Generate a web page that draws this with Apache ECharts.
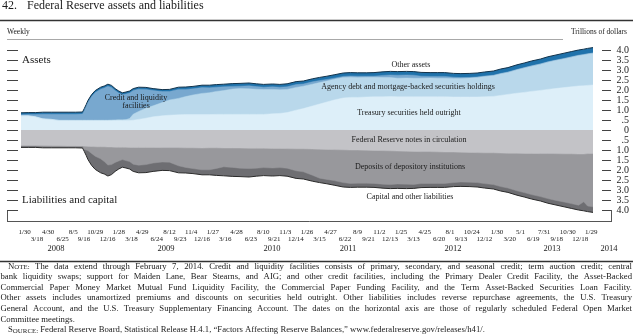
<!DOCTYPE html>
<html><head><meta charset="utf-8">
<script src="https://cdn.jsdelivr.net/npm/echarts@6/dist/echarts.min.js"></script>
<style>html,body{margin:0;padding:0;background:#fff}#c{width:633px;height:335px}</style>
</head><body><div id="c"></div>
<script>
// ---------------- DATA (trillions of dollars) ----------------
const dates = [
 '2008-01-16','2008-02-13','2008-03-12','2008-04-09','2008-05-14','2008-06-11','2008-07-16','2008-08-13','2008-09-10','2008-09-17','2008-09-24','2008-10-01','2008-10-08','2008-10-15','2008-10-22','2008-10-29','2008-11-05','2008-11-19','2008-12-03','2008-12-17','2008-12-31',
 '2009-01-14','2009-01-28','2009-02-11','2009-02-25','2009-03-11','2009-03-25','2009-04-15','2009-05-13','2009-06-10','2009-07-15','2009-08-12','2009-09-16','2009-10-14','2009-11-11','2009-12-16',
 '2010-01-13','2010-02-10','2010-03-10','2010-04-14','2010-05-12','2010-06-16','2010-07-14','2010-08-11','2010-09-15','2010-10-13','2010-11-10','2010-12-15',
 '2011-01-12','2011-02-16','2011-03-16','2011-04-13','2011-05-11','2011-06-15','2011-07-13','2011-08-10','2011-09-14','2011-10-12','2011-11-16','2011-12-14',
 '2012-01-11','2012-02-15','2012-03-14','2012-04-11','2012-05-16','2012-06-13','2012-07-11','2012-08-15','2012-09-12','2012-10-17','2012-11-14','2012-12-12',
 '2013-01-16','2013-02-13','2013-03-13','2013-04-17','2013-05-15','2013-06-12','2013-07-17','2013-08-14','2013-09-11','2013-10-16','2013-11-13','2013-12-11','2013-12-31','2014-01-15','2014-02-05'
];
// Assets
const treasury = [
 0.71,0.71,0.66,0.56,0.53,0.48,0.48,0.48,0.48,0.48,0.48,0.48,0.48,0.48,0.48,0.48,0.48,0.48,0.48,0.48,0.48,
 0.48,0.48,0.47,0.47,0.47,0.49,0.53,0.59,0.66,0.71,0.74,0.76,0.77,0.77,0.77,
 0.77,0.78,0.78,0.78,0.78,0.78,0.78,0.78,0.81,0.83,0.87,0.99,
 1.07,1.20,1.30,1.40,1.50,1.60,1.63,1.63,1.65,1.66,1.66,1.67,
 1.66,1.66,1.66,1.66,1.66,1.66,1.66,1.65,1.65,1.65,1.65,1.66,
 1.68,1.73,1.78,1.84,1.88,1.93,1.98,2.03,2.07,2.12,2.16,2.20,2.21,2.23,2.25
];
const agencyMbs = [
 0,0,0,0,0,0,0,0,0,0,0,0,0,0,0,0,0,0,0,0,0.01,
 0.02,0.03,0.04,0.05,0.10,0.30,0.40,0.50,0.55,0.66,0.76,0.82,0.90,0.98,1.06,
 1.09,1.15,1.19,1.27,1.29,1.28,1.26,1.24,1.22,1.18,1.16,1.14,
 1.12,1.09,1.07,1.05,1.04,1.03,1.01,1.00,0.99,0.98,0.96,0.95,
 0.93,0.94,0.93,0.93,0.94,0.93,0.93,0.93,0.93,0.95,0.98,1.01,
 1.04,1.08,1.10,1.17,1.22,1.26,1.31,1.36,1.40,1.44,1.48,1.52,1.55,1.57,1.59
];
const creditFacilities = [
 0.05,0.06,0.11,0.23,0.26,0.31,0.31,0.31,0.32,0.50,0.69,0.90,0.96,1.19,1.22,1.39,1.48,1.56,1.62,1.71,1.64,
 1.47,1.34,1.25,1.28,1.28,1.18,1.11,0.94,0.76,0.55,0.42,0.45,0.36,0.31,0.29,
 0.25,0.21,0.19,0.13,0.12,0.15,0.13,0.12,0.13,0.13,0.13,0.14,
 0.11,0.12,0.10,0.08,0.05,0.05,0.06,0.06,0.05,0.05,0.11,0.13,
 0.15,0.15,0.15,0.10,0.08,0.09,0.09,0.06,0.04,0.03,0.02,0.03,
 0.02,0.02,0.02,0.02,0.02,0.02,0.02,0.02,0.02,0.02,0.02,0.02,0.02,0.01,0.01
];
const otherAssets = [
 0.10,0.10,0.10,0.10,0.10,0.10,0.10,0.10,0.10,0.10,0.10,0.10,0.10,0.10,0.10,0.10,0.10,0.10,0.10,0.10,0.10,
 0.10,0.10,0.10,0.10,0.10,0.10,0.10,0.10,0.10,0.10,0.11,0.11,0.12,0.12,0.12,
 0.13,0.13,0.13,0.14,0.14,0.14,0.14,0.14,0.14,0.14,0.15,0.15,
 0.15,0.15,0.16,0.16,0.17,0.17,0.17,0.17,0.17,0.18,0.18,0.18,
 0.18,0.18,0.18,0.19,0.19,0.19,0.19,0.19,0.20,0.20,0.20,0.20,
 0.21,0.22,0.22,0.23,0.23,0.24,0.24,0.25,0.25,0.26,0.26,0.26,0.26,0.27,0.27
];
// Liabilities and capital (magnitudes; plotted below zero)
const frNotes = [
 0.78,0.78,0.78,0.78,0.79,0.79,0.80,0.80,0.80,0.81,0.81,0.82,0.82,0.83,0.83,0.83,0.84,0.84,0.84,0.85,0.85,
 0.86,0.86,0.86,0.86,0.87,0.87,0.87,0.87,0.87,0.88,0.88,0.88,0.89,0.89,0.90,
 0.89,0.89,0.90,0.90,0.90,0.91,0.91,0.91,0.92,0.92,0.93,0.94,
 0.94,0.95,0.96,0.97,0.98,0.99,1.00,1.00,1.01,1.02,1.03,1.04,
 1.05,1.06,1.07,1.08,1.08,1.09,1.10,1.10,1.11,1.12,1.13,1.14,
 1.14,1.15,1.16,1.16,1.17,1.17,1.18,1.18,1.18,1.19,1.19,1.20,1.20,1.18,1.17
];
const deposits = [
 0.02,0.02,0.02,0.04,0.03,0.03,0.02,0.02,0.03,0.17,0.18,0.21,0.17,0.34,0.33,0.48,0.54,0.60,0.74,0.90,0.88,
 0.76,0.69,0.62,0.67,0.71,0.84,0.89,0.86,0.78,0.72,0.73,0.91,0.98,1.04,1.09,
 1.10,1.03,0.94,0.97,1.01,1.02,1.00,0.97,0.98,0.96,0.98,1.10,
 1.15,1.31,1.45,1.50,1.55,1.64,1.67,1.66,1.65,1.65,1.68,1.69,
 1.65,1.65,1.65,1.60,1.59,1.58,1.57,1.53,1.49,1.49,1.50,1.54,
 1.59,1.68,1.74,1.88,1.96,2.06,2.15,2.25,2.33,2.41,2.49,2.56,2.39,2.62,2.67
];
const capitalOther = [
 0.07,0.07,0.07,0.07,0.07,0.07,0.07,0.07,0.07,0.10,0.28,0.45,0.55,0.60,0.64,0.66,0.68,0.70,0.62,0.55,0.50,
 0.45,0.40,0.38,0.37,0.37,0.36,0.38,0.40,0.42,0.42,0.42,0.35,0.28,0.25,0.25,
 0.25,0.35,0.45,0.45,0.42,0.42,0.40,0.40,0.40,0.40,0.40,0.38,
 0.36,0.30,0.22,0.22,0.23,0.22,0.20,0.20,0.20,0.20,0.20,0.20,
 0.22,0.22,0.20,0.20,0.20,0.20,0.20,0.20,0.22,0.22,0.22,0.22,
 0.22,0.22,0.22,0.22,0.22,0.22,0.22,0.23,0.23,0.24,0.24,0.24,0.45,0.28,0.28
];
// Horizontal-axis ticks: regularly scheduled FOMC meetings
const fomcDates = [
 '2008-01-30','2008-03-18','2008-04-30','2008-06-25','2008-08-05','2008-09-16','2008-10-29','2008-12-16',
 '2009-01-28','2009-03-18','2009-04-29','2009-06-24','2009-08-12','2009-09-23','2009-11-04','2009-12-16',
 '2010-01-27','2010-03-16','2010-04-28','2010-06-23','2010-08-10','2010-09-21','2010-11-03','2010-12-14',
 '2011-01-26','2011-03-15','2011-04-27','2011-06-22','2011-08-09','2011-09-21','2011-11-02','2011-12-13',
 '2012-01-25','2012-03-13','2012-04-25','2012-06-20','2012-08-01','2012-09-13','2012-10-24','2012-12-12',
 '2013-01-30','2013-03-20','2013-05-01','2013-06-19','2013-07-31','2013-09-18','2013-10-30','2013-12-18',
 '2014-01-29'
];
const yearLabels = ['2008','2009','2010','2011','2012','2013','2014'];
const yMin = -4, yMax = 4, yStep = 0.5;
const sideLabels = {assets: 'Assets', liab: 'Liabilities and capital'};

// ---------------- LAYOUT / STYLE ----------------
const SERIF = '"Liberation Serif","Times New Roman",serif';
const yearX = [56, 166, 272, 348, 453, 552, 609];
const col = {
  tsy:'#ddeff9', mbs:'#b9d8eb', crd:'#78a8cf', oth:'#1f72ab',
  notes:'#c3c3c7', dep:'#98989c', cap:'#6e6e72'
};

const chart = echarts.init(document.getElementById('c'), null, {renderer:'canvas'});
const ts = d => { const p = d.split('-'); return Date.UTC(+p[0], +p[1]-1, +p[2]); };
const fomcTs = fomcDates.map(ts);
const fomcIdx = new Map(fomcTs.map((t,i)=>[t,i]));
const fomcText = fomcDates.map(d => { const p=d.split('-'); return (+p[1])+'/'+(+p[2]); });

// layered bands: each band is drawn from zero up to the running total of its own and lower layers,
// upper layers first so lower ones paint over them
function runningTotal(layers){ return dates.map((_,i)=>layers.reduce((s,a)=>s+a[i],0)); }
function band(name, layers, color, sign, outline) {
  const tot = runningTotal(layers);
  return {
    type:'line', name, data: dates.map((d,i)=>[ts(d), +(sign*tot[i]).toFixed(3)]),
    showSymbol:false, symbol:'none', smooth:false, clip:false, silent:true,
    areaStyle:{color, opacity:1, origin:0},
    lineStyle: outline ? {color: outline, width: 1} : {color, width: 0.5},
    itemStyle:{color}
  };
}

function T(x, y, text, size, align, valign) {
  return {type:'text', x, y, silent:true, z:100, style:{
    text, font: size+'px '+SERIF, fill:'#1a1a1a',
    align: align||'left', verticalAlign: valign||'middle',
    textAlign: align||'left', textVerticalAlign: valign||'middle'
  }};
}
function L(x1,y1,x2,y2,stroke,w){ return {type:'line', silent:true, shape:{x1,y1,x2,y2}, style:{stroke, lineWidth:w}}; }

const graphics = [];
graphics.push(T(2, 6, '42.', 12));
graphics.push(T(27, 6, 'Federal Reserve assets and liabilities', 12));
graphics.push(L(0, 20.5, 633, 20.5, '#333', 1.6));
graphics.push(T(7, 32, 'Weekly', 7.5));
graphics.push(T(627, 32, 'Trillions of dollars', 7.5, 'right'));
graphics.push(L(7, 39.5, 563, 39.5, '#a8a8a8', 1));
graphics.push(L(7, 221.5, 611.5, 221.5, '#555', 1));
graphics.push(L(7.5, 210, 7.5, 222, '#555', 1));
graphics.push(L(611.5, 210, 611.5, 222, '#555', 1));
yearLabels.forEach((y,i)=>graphics.push(T(yearX[i], 249, y, 8.5, 'center')));
const ann = [
  [136, 98, 'Credit and liquidity'], [136, 106, 'facilities'],
  [411, 65, 'Other assets'],
  [408, 87, 'Agency debt and mortgage-backed securities holdings'],
  [409, 113, 'Treasury securities held outright'],
  [409, 140, 'Federal Reserve notes in circulation'],
  [410, 167, 'Deposits of depository institutions'],
  [410, 197, 'Capital and other liabilities']
];
ann.forEach(a => graphics.push(T(a[0], a[1], a[2], 8, 'center')));
graphics.push(L(0, 261.5, 633, 261.5, '#333', 1.6));

// ---------------- NOTE (justified) ----------------
const NFS = 8.7, SCFS = 6.9;
const nFont = NFS+'px '+SERIF, scFont = SCFS+'px '+SERIF;
const mctx = document.createElement('canvas').getContext('2d');
function mw(t, f){ mctx.font = f; return mctx.measureText(t).width; }
function wordW(w){ return typeof w === 'string' ? mw(w, nFont) : mw(w.sc[0], nFont) + mw(w.sc.slice(1), scFont); }
function drawWord(w, x, yb){
  if (typeof w === 'string') { graphics.push(T(x, yb, w, NFS, 'left', 'bottom')); return; }
  graphics.push(T(x, yb, w.sc[0], NFS, 'left', 'bottom'));
  graphics.push(T(x + mw(w.sc[0], nFont), yb, w.sc.slice(1), SCFS, 'left', 'bottom'));
}
function line(words, x0, x1, yc, justify){
  const ws = words.map(wordW); const tot = ws.reduce((a,b)=>a+b,0);
  const sp = mw(' ', nFont);
  let gap = (justify && words.length>1) ? (x1-x0-tot)/(words.length-1) : sp;
  if (gap < sp*0.5) gap = sp*0.5;
  let x = x0; const yb = yc + NFS*0.55;
  words.forEach((w,i)=>{ drawWord(w, x, yb); x += ws[i] + gap; });
}
const noteLines = [
  [[{sc:'NOTE:'}].concat('The data extend through February 7, 2014. Credit and liquidity facilities consists of primary, secondary, and seasonal credit; term auction credit; central'.split(' ')), 8, true],
  ['bank liquidity swaps; support for Maiden Lane, Bear Stearns, and AIG; and other credit facilities, including the Primary Dealer Credit Facility, the Asset-Backed'.split(' '), 0.5, true],
  ['Commercial Paper Money Market Mutual Fund Liquidity Facility, the Commercial Paper Funding Facility, and the Term Asset-Backed Securities Loan Facility.'.split(' '), 0.5, true],
  ['Other assets includes unamortized premiums and discounts on securities held outright. Other liabilities includes reverse repurchase agreements, the U.S. Treasury'.split(' '), 0.5, true],
  ['General Account, and the U.S. Treasury Supplementary Financing Account. The dates on the horizontal axis are those of regularly scheduled Federal Open Market'.split(' '), 0.5, true],
  ['Committee meetings.'.split(' '), 0.5, false],
  [[{sc:'SOURCE:'}].concat('Federal Reserve Board, Statistical Release H.4.1, “Factors Affecting Reserve Balances,” www.federalreserve.gov/releases/h41/.'.split(' ')), 8, false]
];
noteLines.forEach((ln,i)=>line(ln[0], ln[1], 632, 266 + i*10.6, ln[2]));

function yFmt(v){ const a = Math.abs(v); if (a < 1e-9) return '0'; if (a < 1) return '.5'; return a.toFixed(1); }

chart.setOption({
  animation:false,
  grid:{left:21, right:40, top:50, bottom:125, containLabel:false},
  xAxis:[{
    type:'value', min: ts(dates[0]), max: ts(dates[dates.length-1]), offset: 11, scale:true,
    axisLine:{show:false}, splitLine:{show:false},
    axisTick:{show:true, inside:true, length:4, customValues: fomcTs, lineStyle:{color:'#555', width:1}},
    axisLabel:{show:true, customValues: fomcTs, margin: 8, hideOverlap:false,
      formatter: (v)=>{ const i = fomcIdx.get(+v); if (i===undefined) return ''; return (i%2===0?'{a|':'{b|')+fomcText[i]+'}'; },
      rich:{ a:{fontSize:7, fontFamily:SERIF, color:'#1a1a1a', padding:[0,0,0,0]},
             b:{fontSize:7, fontFamily:SERIF, color:'#1a1a1a', padding:[7,0,0,0]} }
    }
  }],
  yAxis:[{
    type:'value', position:'right', min:yMin, max:yMax, interval:yStep, offset: 18,
    axisLine:{show:false}, splitLine:{show:false},
    axisTick:{show:true, inside:true, length:9, lineStyle:{color:'#444', width:1}},
    axisLabel:{show:true, align:'right', margin:18, formatter:yFmt, fontSize:10, fontFamily:SERIF, color:'#1a1a1a'}
  },{
    type:'value', position:'left', min:yMin, max:yMax, interval:yStep, offset: 14,
    axisLine:{show:false}, splitLine:{show:false},
    axisTick:{show:true, inside:true, length:11, lineStyle:{color:'#444', width:1}},
    axisLabel:{show:true, inside:true, margin:15, customValues:[3.5, -3.5],
      formatter:(v)=> v>0 ? sideLabels.assets : sideLabels.liab,
      fontSize:11, fontFamily:SERIF, color:'#1a1a1a'}
  }],
  series:[
    band('Other assets', [treasury, agencyMbs, creditFacilities, otherAssets], col.oth, 1, '#12324a'),
    band('Credit and liquidity facilities', [treasury, agencyMbs, creditFacilities], col.crd, 1),
    band('Agency debt and mortgage-backed securities holdings', [treasury, agencyMbs], col.mbs, 1),
    band('Treasury securities held outright', [treasury], col.tsy, 1),
    band('Capital and other liabilities', [frNotes, deposits, capitalOther], col.cap, -1, '#2a2a2a'),
    band('Deposits of depository institutions', [frNotes, deposits], col.dep, -1),
    band('Federal Reserve notes in circulation', [frNotes], col.notes, -1)
  ],
  graphic: graphics
});
</script></body></html>
